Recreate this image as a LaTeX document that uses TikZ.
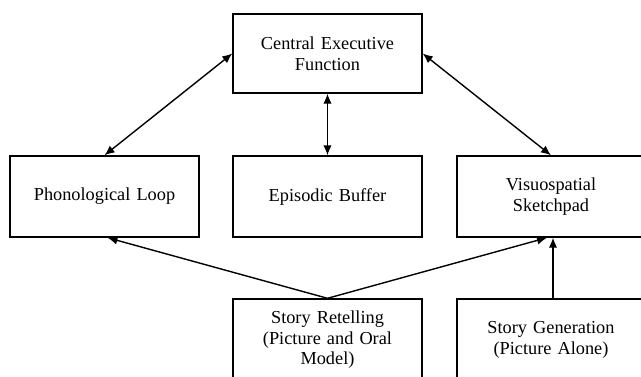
\documentclass[tikz,border=0pt]{standalone}
\usepackage{fontspec}
\setmainfont{Liberation Serif}
\usetikzlibrary{arrows.meta}
\begin{document}
\begin{tikzpicture}[x=1pt,y=-1pt,
  box/.style={draw, line width=1.4pt, minimum width=189pt, minimum height=81pt, inner sep=0pt,
    text width=175pt, align=center, font=\fontsize{18.3pt}{20.5pt}\selectfont},
  conn/.style={line width=1.4pt, -{Latex[length=10pt,width=8.5pt]}},
  dconn/.style={line width=1.4pt, {Latex[length=10pt,width=8.5pt]}-{Latex[length=10pt,width=8.5pt]}}]
\useasboundingbox (0,0) rectangle (641,376);
\clip (0,0) rectangle (641,376);
\node[box, minimum height=79pt] (ce) at (327.5,53.5) {Central Executive\\Function};
\node[box] (pl) at (104.5,196.5) {Phonological Loop};
\node[box] (eb) at (327.5,196.5) {Episodic Buffer};
\node[box, minimum width=188pt] (vs) at (551,196.5) {Visuospatial\\Sketchpad};
\node[box, minimum height=82pt] (sr) at (327.5,340) {Story Retelling\\(Picture and Oral\\Model)};
\node[box, minimum width=188pt, minimum height=82pt] (sg) at (551,340) {Story Generation\\(Picture Alone)};
\draw[dconn] (ce.west) -- (pl.north);
\draw[dconn] (ce.east) -- (vs.north);
\draw[dconn] (ce.south) -- (eb.north);
\draw[conn] (sr.north) -- ([xshift=3pt]pl.south);
\draw[conn] (sr.north) -- ([xshift=-4pt]vs.south);
\draw[conn] ([xshift=2pt]sg.north) -- ([xshift=2pt]vs.south);
\end{tikzpicture}
\end{document}
